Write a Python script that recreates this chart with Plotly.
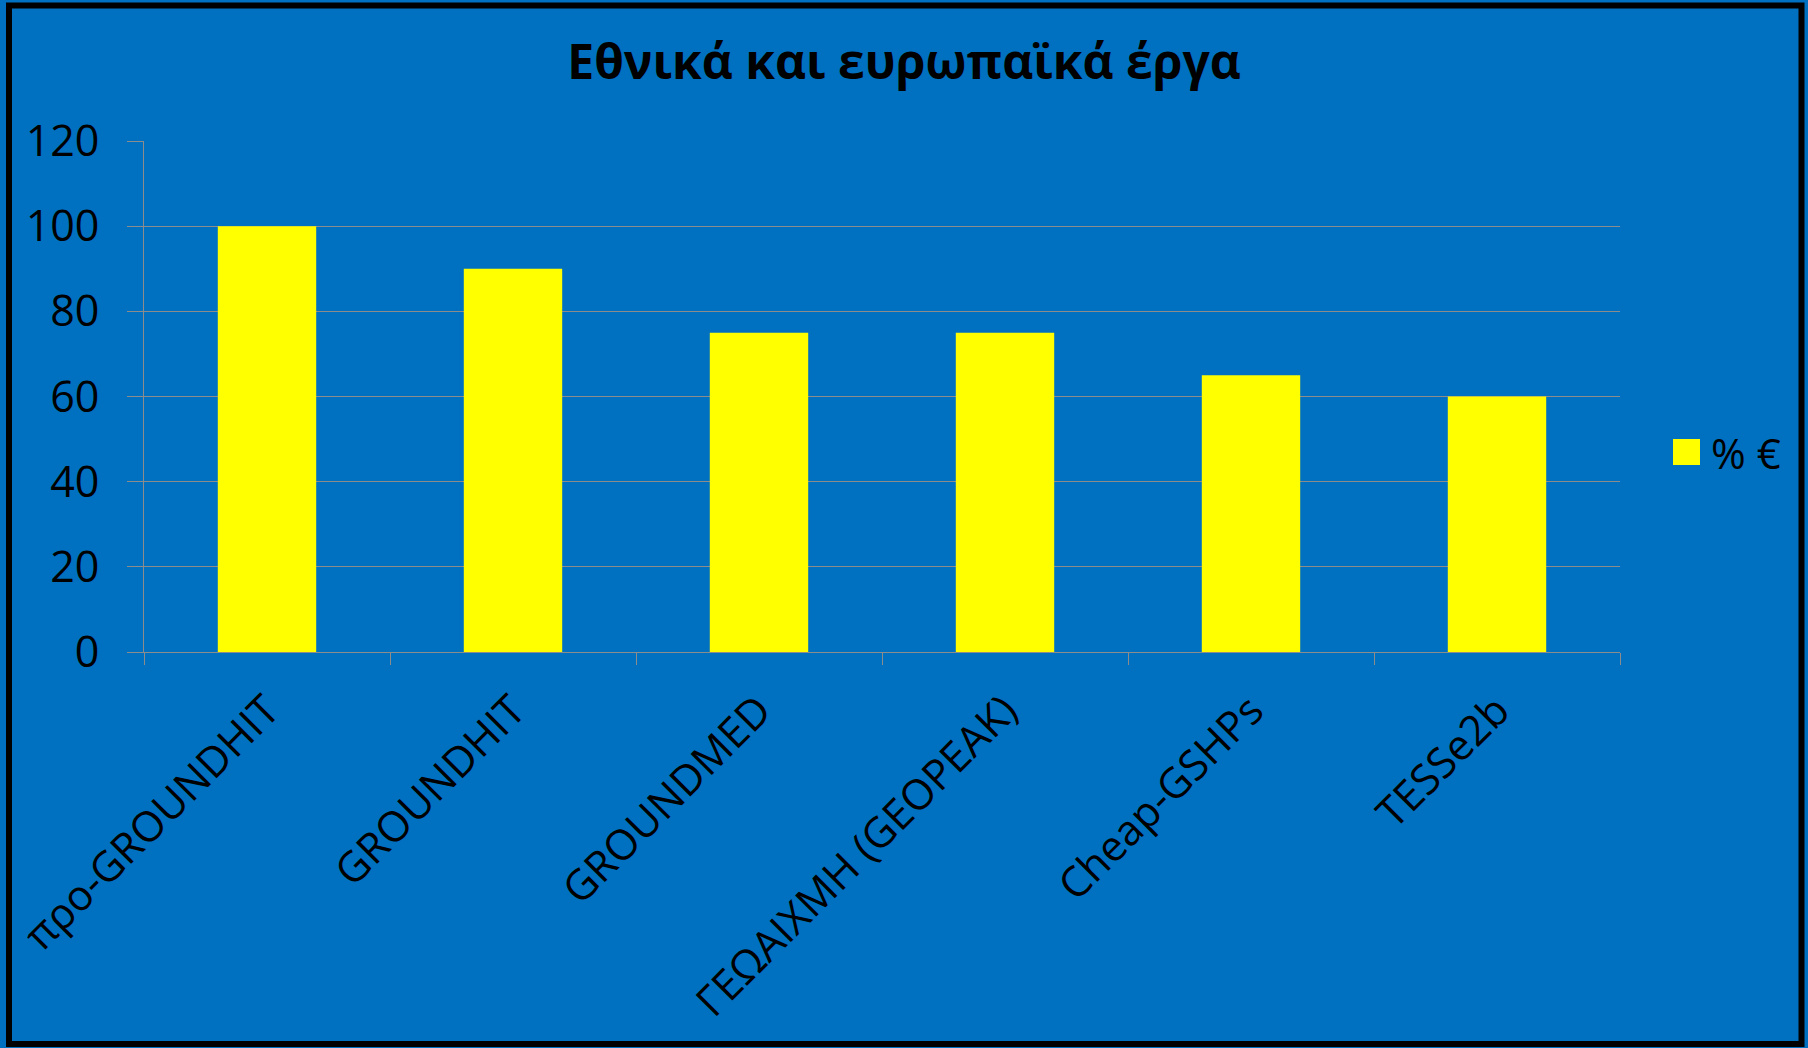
import plotly.graph_objects as go

categories = ["προ-GROUNDHIT", "GROUNDHIT", "GROUNDMED", "ΓΕΩΑΙΧΜΗ (GEOPEAK)", "Cheap-GSHPs", "TESSe2b"]
values = [100, 90, 75, 75, 65, 60]
series_name = "% €"
title_text = "Εθνικά και ευρωπαϊκά έργα"
y_ticks = [0, 20, 40, 60, 80, 100, 120]

BG = "#0070C0"
BAR = "#FFFF00"
GRID = "#8C8C8C"
FONT = "Open Sans"

W, H = 1808, 1048
L, R, T, B = 144, 188, 141, 396
pw, ph = W - L - R, H - T - B

def px(x):
    return (x - L) / pw

def py(y):
    return (H - B - y) / ph

fig = go.Figure()
fig.add_trace(go.Bar(
    x=categories, y=values, name=series_name,
    marker=dict(color=BAR, line=dict(width=0)),
    width=0.4, showlegend=False,
))

fig.update_layout(
    width=W, height=H,
    margin=dict(l=L, r=R, t=T, b=B, autoexpand=False),
    paper_bgcolor=BG, plot_bgcolor=BG,
    font=dict(family=FONT, color="black", size=42),
    title=dict(text="<b>" + title_text + "</b>", x=0.5, xanchor="center",
               y=1 - 62 / H, yanchor="middle", yref="container",
               font=dict(size=48, family=FONT, color="black")),
    bargap=0.6,
    xaxis=dict(type="category", tickangle=-45, showgrid=False,
               showline=True, linecolor=GRID, linewidth=1,
               ticks="outside", ticklen=12, tickcolor=GRID, tickson="boundaries",
               ticklabelstandoff=16,
               tickfont=dict(size=42, color="black"), range=[-0.5, 5.5]),
    yaxis=dict(range=[0, 120], tickvals=y_ticks, showgrid=True, gridcolor=GRID,
               gridwidth=1, showline=True, linecolor=GRID, linewidth=1,
               ticks="outside", ticklen=16, tickcolor=GRID,
               ticklabelstandoff=19, zeroline=False,
               tickfont=dict(size=43, color="black")),
)

# legend swatch + label
fig.add_shape(type="rect", xref="paper", yref="paper",
              x0=px(1673), x1=px(1700), y0=py(439), y1=py(465),
              fillcolor=BAR, line=dict(width=0))
fig.add_annotation(xref="paper", yref="paper", x=px(1709), y=py(452),
                   text=series_name, showarrow=False, xanchor="left", yanchor="middle",
                   font=dict(size=42, color="black", family=FONT))

# outer black frame
fig.add_shape(type="rect", xref="paper", yref="paper",
              x0=px(9), x1=px(1801.5), y0=py(1044), y1=py(5.5),
              line=dict(color="black", width=6), fillcolor="rgba(0,0,0,0)", layer="above")

fig.write_html("out.html", config={"displayModeBar": False},
               post_script="document.body.style.margin='0';document.body.style.overflow='hidden';")
